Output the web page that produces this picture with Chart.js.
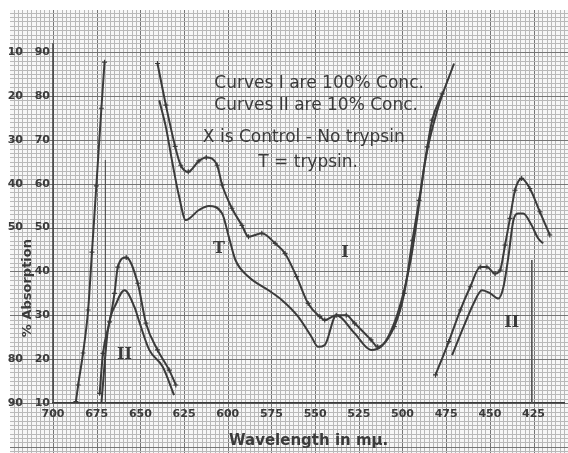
<!DOCTYPE html>
<html><head><meta charset="utf-8">
<script src="https://cdn.jsdelivr.net/npm/chart.js@4.4.1/dist/chart.umd.min.js"></script>
<style>html,body{margin:0;padding:0;background:#fff;}#wrap{width:568px;height:453px;position:relative;}</style>
</head><body><div id="wrap"><canvas id="c"></canvas></div>
<script>
// ---- tick labels ----
const xTickValues = [700,675,650,625,600,575,550,525,500,475,450,425];
const yTickValues = [10,20,30,40,50,60,70,80,90];
const yOuterLabels = ['90','80','','','50','40','30','20','10'];

// ---- Curve I, far-red band (single line) ----
const bandNm  = [686.9,685.6,682.8,679.9,677.7,675.2,672.3,670.5];
const bandAbs = [10.3,14.1,21.4,31.2,44.4,59.5,77.2,87.7];

// ---- Curve I, 100% conc. : control (X) ----
const c1ControlNm  = [640.2,635.4,630.1,626.9,622.6,616.5,612.3,606.1,603.2,597.6,591.9,588.1,580.5,572.9,567.2,560.6,554.0,547.3,544.5,537.9,532.2,527.4,518.0,514.2,504.7,499.0,494.3,490.5,485.8,483.0,477.3];
const c1ControlAbs = [87.4,77.9,68.5,64.2,62.7,65.2,66.0,64.2,59.7,54.4,50.5,47.9,48.7,46.4,44.1,38.8,32.7,29.7,28.9,30.0,30.0,28.2,24.4,22.8,27.4,35.0,47.1,56.2,68.4,74.5,80.5];

// ---- Curve I, 100% conc. : trypsin (T) ----
const c1TrypsinNm  = [639.2,635.4,631.6,627.8,624.0,616.5,610.8,603.2,599.4,595.6,588.1,576.7,569.1,559.7,552.1,548.3,544.5,537.9,527.4,518.0,512.3,502.8,495.3,491.5,486.9,480.1,470.5];
const c1TrypsinAbs = [79.0,72.9,64.6,57.0,51.7,54.0,54.9,53.2,47.9,42.6,38.8,35.7,33.5,29.7,25.1,22.8,23.2,30.0,25.9,22.1,22.8,30.4,42.6,52.4,65.4,76.7,87.4];

// ---- Curve II (10% conc.), red band ----
const c2RedControlNm  = [673.3,671.4,667.6,664.8,662.9,658.1,651.5,646.8,640.2,633.5,629.7];
const c2RedControlAbs = [12.2,21.3,28.5,35.0,41.0,43.2,37.3,28.2,22.1,17.5,14.1];
const c2RedTrypsinNm  = [672.3,668.6,663.8,659.1,653.4,650.6,644.9,637.3,630.7];
const c2RedTrypsinAbs = [10.0,26.6,32.7,35.7,31.9,28.5,22.1,18.3,11.8];

// ---- Curve II (10% conc.), blue band ----
const c2BlueControlNm  = [481.1,473.5,466.9,461.2,455.5,451.7,447.0,444.1,441.3,438.5,435.6,431.8,427.1,421.4,415.7];
const c2BlueControlAbs = [16.4,24.0,31.2,36.5,41.0,41.0,39.5,40.3,46.0,52.1,58.5,61.2,58.9,53.6,48.3];
const c2BlueTrypsinNm  = [471.6,465.0,459.3,454.5,449.8,445.1,442.2,439.4,436.5,433.7,430.9,426.1,422.3,419.5];
const c2BlueTrypsinAbs = [20.9,27.4,32.7,35.7,35.0,33.8,36.5,43.3,51.7,53.2,53.2,50.5,47.5,46.4];

// ---- hand-drawn drop lines ----
const dropNm  = [670, 426];
const dropTop = [65.4, 42.6];

// ---- notes ----
const noteTexts = ['Curves I are 100% Conc.','Curves II are 10% Conc.','X is Control - No trypsin','T = trypsin.'];
const noteNm  = [547.7, 549.4, 556.5, 554.0];
const noteAbs = [82.9, 77.7, 70.6, 64.7];
const curveLabels = ['T','I','II','II'];
const curveLabelNm  = [605.1, 532.9, 659.1, 437.5];
const curveLabelAbs = [45.1, 44.2, 20.9, 28.2];

const INK = '#3b3b3b';
const pts = (xs, ys) => xs.map((v, i) => ({x: v, y: ys[i]}));
function curve(xs, ys, markers){
  return {data: pts(xs, ys), showLine: true, borderColor: INK, borderWidth: 2,
    cubicInterpolationMode: 'monotone', pointStyle: 'cross',
    pointRadius: markers ? 2.5 : 0, pointBorderColor: INK, pointBorderWidth: 1.2,
    pointBackgroundColor: INK, pointHoverRadius: 0};
}
const datasets = [
  curve(bandNm, bandAbs, true),
  curve(c1ControlNm, c1ControlAbs, true),
  curve(c1TrypsinNm, c1TrypsinAbs, false),
  curve(c2RedControlNm, c2RedControlAbs, true),
  curve(c2RedTrypsinNm, c2RedTrypsinAbs, false),
  curve(c2BlueControlNm, c2BlueControlAbs, true),
  curve(c2BlueTrypsinNm, c2BlueTrypsinAbs, false)
];
dropNm.forEach((n, i) => {
  datasets.push({data: [{x: n, y: dropTop[i]}, {x: n, y: 10}], showLine: true,
    borderColor: '#555', borderWidth: 1, pointRadius: 0});
});

const paperPlugin = {
  id: 'paper',
  beforeDraw(chart){
    const {ctx} = chart; const x = chart.scales.x, y = chart.scales.y;
    const W = chart.width, H = chart.height, L = 10, T = 10;
    ctx.save();
    ctx.fillStyle = '#f7f7f7';
    ctx.fillRect(L, T, W - L, H - T);
    ctx.lineWidth = 1;
    for (let k = 0; k <= 140; k++) {
      const nm = 400 + 2.5 * k;
      const px = Math.round(x.getPixelForValue(nm)) + 0.5;
      if (px < L || px > W) continue;
      ctx.strokeStyle = (nm % 25 === 0) ? '#767676' : '#b9b9b9';
      ctx.beginPath(); ctx.moveTo(px, T); ctx.lineTo(px, H); ctx.stroke();
    }
    for (let v = -10; v <= 110; v++) {
      const py = Math.round(y.getPixelForValue(v)) + 0.5;
      if (py < T || py > H) continue;
      ctx.strokeStyle = (v % 10 === 0) ? '#767676' : '#b9b9b9';
      ctx.beginPath(); ctx.moveTo(L, py); ctx.lineTo(W, py); ctx.stroke();
    }
    // y axis line (starts just above the 90 tick, as drawn)
    ctx.strokeStyle = INK; ctx.lineWidth = 1.5;
    const ax = x.getPixelForValue(700);
    ctx.beginPath(); ctx.moveTo(ax, y.getPixelForValue(92)); ctx.lineTo(ax, y.getPixelForValue(10)); ctx.stroke();
    ctx.restore();
  }
};

const notesPlugin = {
  id: 'notes',
  afterDatasetsDraw(chart){
    const {ctx} = chart; const x = chart.scales.x, y = chart.scales.y;
    ctx.save();
    ctx.fillStyle = INK;
    ctx.textAlign = 'center'; ctx.textBaseline = 'middle';
    ctx.font = '17px "DejaVu Sans"';
    noteTexts.forEach((t, i) => ctx.fillText(t, x.getPixelForValue(noteNm[i]), y.getPixelForValue(noteAbs[i])));
    ctx.font = 'bold 16px "DejaVu Serif"';
    curveLabels.forEach((t, i) => ctx.fillText(t, x.getPixelForValue(curveLabelNm[i]), y.getPixelForValue(curveLabelAbs[i])));
    // y axis title, between the two label columns
    ctx.translate(y.left + 3, y.getPixelForValue(36.2));
    ctx.rotate(-Math.PI / 2);
    ctx.font = 'bold 13px "DejaVu Sans"';
    ctx.fillText('% Absorption', 0, 0);
    ctx.restore();
  }
};

const tickFont = {family: 'DejaVu Sans', size: 11, weight: 'bold'};
new Chart(document.getElementById('c'), {
  type: 'scatter',
  data: {datasets},
  plugins: [paperPlugin, notesPlugin],
  options: {
    responsive: true, maintainAspectRatio: false, animation: false,
    layout: {padding: {top: 10, left: 0, right: 0, bottom: 0}},
    plugins: {legend: {display: false}, tooltip: {enabled: false}},
    events: [],
    scales: {
      x: {type: 'linear', reverse: true, min: 407.4, max: 700,
        grid: {display: false, drawTicks: false, tickLength: 0}, border: {display: true, color: INK, width: 1.5},
        afterBuildTicks: s => { s.ticks = xTickValues.map(v => ({value: v})); },
        afterFit: s => { s.height = 50; },
        ticks: {autoSkip: false, maxRotation: 0, padding: 5, color: INK, font: tickFont,
          callback: v => String(v)},
        title: {display: true, text: 'Wavelength in mμ.', color: INK,
          font: {family: 'DejaVu Sans', size: 15, weight: 'bold'}, padding: {top: 0, bottom: 3}}
      },
      y: {type: 'linear', position: 'left', weight: 0, min: 10, max: 99.6,
        grid: {display: false, drawTicks: false, tickLength: 0}, border: {display: false},
        afterBuildTicks: s => { s.ticks = yTickValues.map(v => ({value: v})); },
        afterFit: s => { s.width = 28; },
        ticks: {autoSkip: false, padding: 3, color: INK, font: tickFont, callback: v => String(v)}
      },
      y2: {type: 'linear', position: 'left', weight: 1, min: 10, max: 99.6,
        grid: {display: false, drawTicks: false, tickLength: 0}, border: {display: false},
        afterBuildTicks: s => { s.ticks = yTickValues.map(v => ({value: v})); },
        afterFit: s => { s.width = 25; },
        ticks: {autoSkip: false, padding: 2, color: INK, font: tickFont,
          callback: (v, i) => yOuterLabels[i]}
      }
    }
  }
});
</script></body></html>
